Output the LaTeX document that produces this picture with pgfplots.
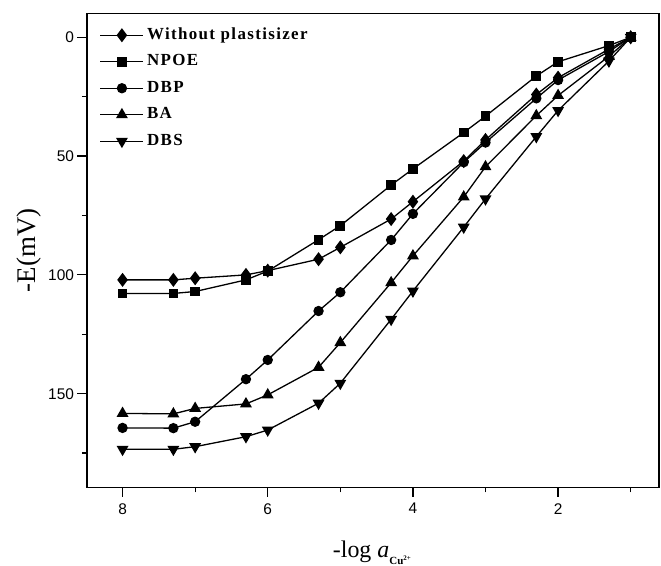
\documentclass[border=0pt]{standalone}
\usepackage{fontspec}
\setmainfont{Liberation Serif}
\newfontfamily\ticksans{Liberation Sans}
\newfontfamily\legfont[LetterSpace=8]{Liberation Serif}
\usepackage{pgfplots}
\pgfplotsset{compat=1.18}
\begin{document}
\begin{tikzpicture}
\begin{axis}[
  scale only axis, width=572bp, height=474bp,
  x dir=reverse, y dir=reverse,
  xmin=0.61, xmax=8.49, ymin=-10.1, ymax=189.4,
  xtick={2,4,6,8}, minor xtick={1,3,5,7},
  ytick={0,50,100,150}, minor ytick={25,75,125,175},
  tick align=outside, tick pos=left,
  major tick length=9.5bp, minor tick length=5bp,
  every tick/.style={black, line width=1.2bp},
  axis line style={line width=1.4bp},
  /pgf/number format/assume math mode=true,
  tick label style={font=\fontsize{15.5}{16}\ticksans},
  xticklabel style={yshift=-3bp},
  xlabel={-log \textit{a}\raisebox{-0.6ex}{\fontsize{11}{11}\selectfont\bfseries Cu\raisebox{0.7ex}{\fontsize{7}{7}\selectfont 2+}}},
  ylabel={-E(mV)},
  every axis x label/.style={at={(axis description cs:0.498,-0.148)}, anchor=base, font=\fontsize{24}{26}\selectfont},
  every axis y label/.style={at={(axis description cs:-0.101,0.5)}, rotate=90, anchor=center, font=\fontsize{27}{28}\selectfont},
  legend cell align=left,
  legend style={draw=none, fill=none, at={(axis description cs:0.022,0.971)}, anchor=north west,
    inner sep=0pt, row sep=10.5bp,
    nodes={text height=12bp, text depth=4bp, inner xsep=3bp, inner ysep=0pt, font=\fontsize{17}{17}\legfont\bfseries}},
  legend image code/.code={\draw[mark repeat=2,mark phase=2,#1] plot coordinates {(0bp,0bp) (21.5bp,0bp) (43bp,0bp)};},
]
\addplot[black, line width=1.3bp, mark=diamond*, mark size=6bp, mark options={solid, fill=black}] coordinates {
(8,102.1) (7.3,102.1) (7,101.4) (6.3,100.0) (6,98.2) (5.3,93.4) (5,88.4) (4.3,76.5) (4,69.2) (3.3,52.1) (3,43.2) (2.3,24.1) (2,17.0) (1.3,5) (1,0)};
\addlegendentry{Without plastisizer}
\addplot[black, line width=1.3bp, mark=square*, mark size=4.2bp, mark options={solid, fill=black}] coordinates {
(8,107.8) (7.3,107.8) (7,107.0) (6.3,102.1) (6,98.4) (5.3,85.2) (5,79.3) (4.3,62.2) (4,55.4) (3.3,40.1) (3,33.2) (2.3,16.3) (2,10.3) (1.3,3.5) (1,0)};
\addlegendentry{NPOE}
\addplot[black, line width=1.3bp, mark=*, mark size=4.5bp, mark options={solid, fill=black}] coordinates {
(8,164.4) (7.3,164.5) (7,161.8) (6.3,143.9) (6,135.8) (5.3,115.2) (5,107.3) (4.3,85.3) (4,74.3) (3.3,52.6) (3,44.3) (2.3,25.7) (2,18) (1.3,6) (1,0)};
\addlegendentry{DBP}
\addplot[black, line width=1.3bp, mark=triangle*, mark size=5.6bp, mark options={solid, fill=black}] coordinates {
(8,158.3) (7.3,158.5) (7,156.2) (6.3,154.3) (6,150.5) (5.3,138.9) (5,128.5) (4.3,103.3) (4,92.0) (3.3,67.2) (3,54.5) (2.3,33.0) (2,24.5) (1.3,8) (1,0)};
\addlegendentry{BA}
\addplot[black, line width=1.3bp, mark=triangle*, mark size=5.6bp, mark options={solid, fill=black, rotate=180}] coordinates {
(8,173.4) (7.3,173.4) (7,172.3) (6.3,168.1) (6,165.3) (5.3,154.0) (5,145.6) (4.3,118.7) (4,106.8) (3.3,79.9) (3,68.0) (2.3,41.8) (2,30.8) (1.3,10) (1,0)};
\addlegendentry{DBS}
\end{axis}
\pgfresetboundingbox
\path (-87bp,-78.7bp) rectangle (574bp,487.3bp);
\end{tikzpicture}
\end{document}
